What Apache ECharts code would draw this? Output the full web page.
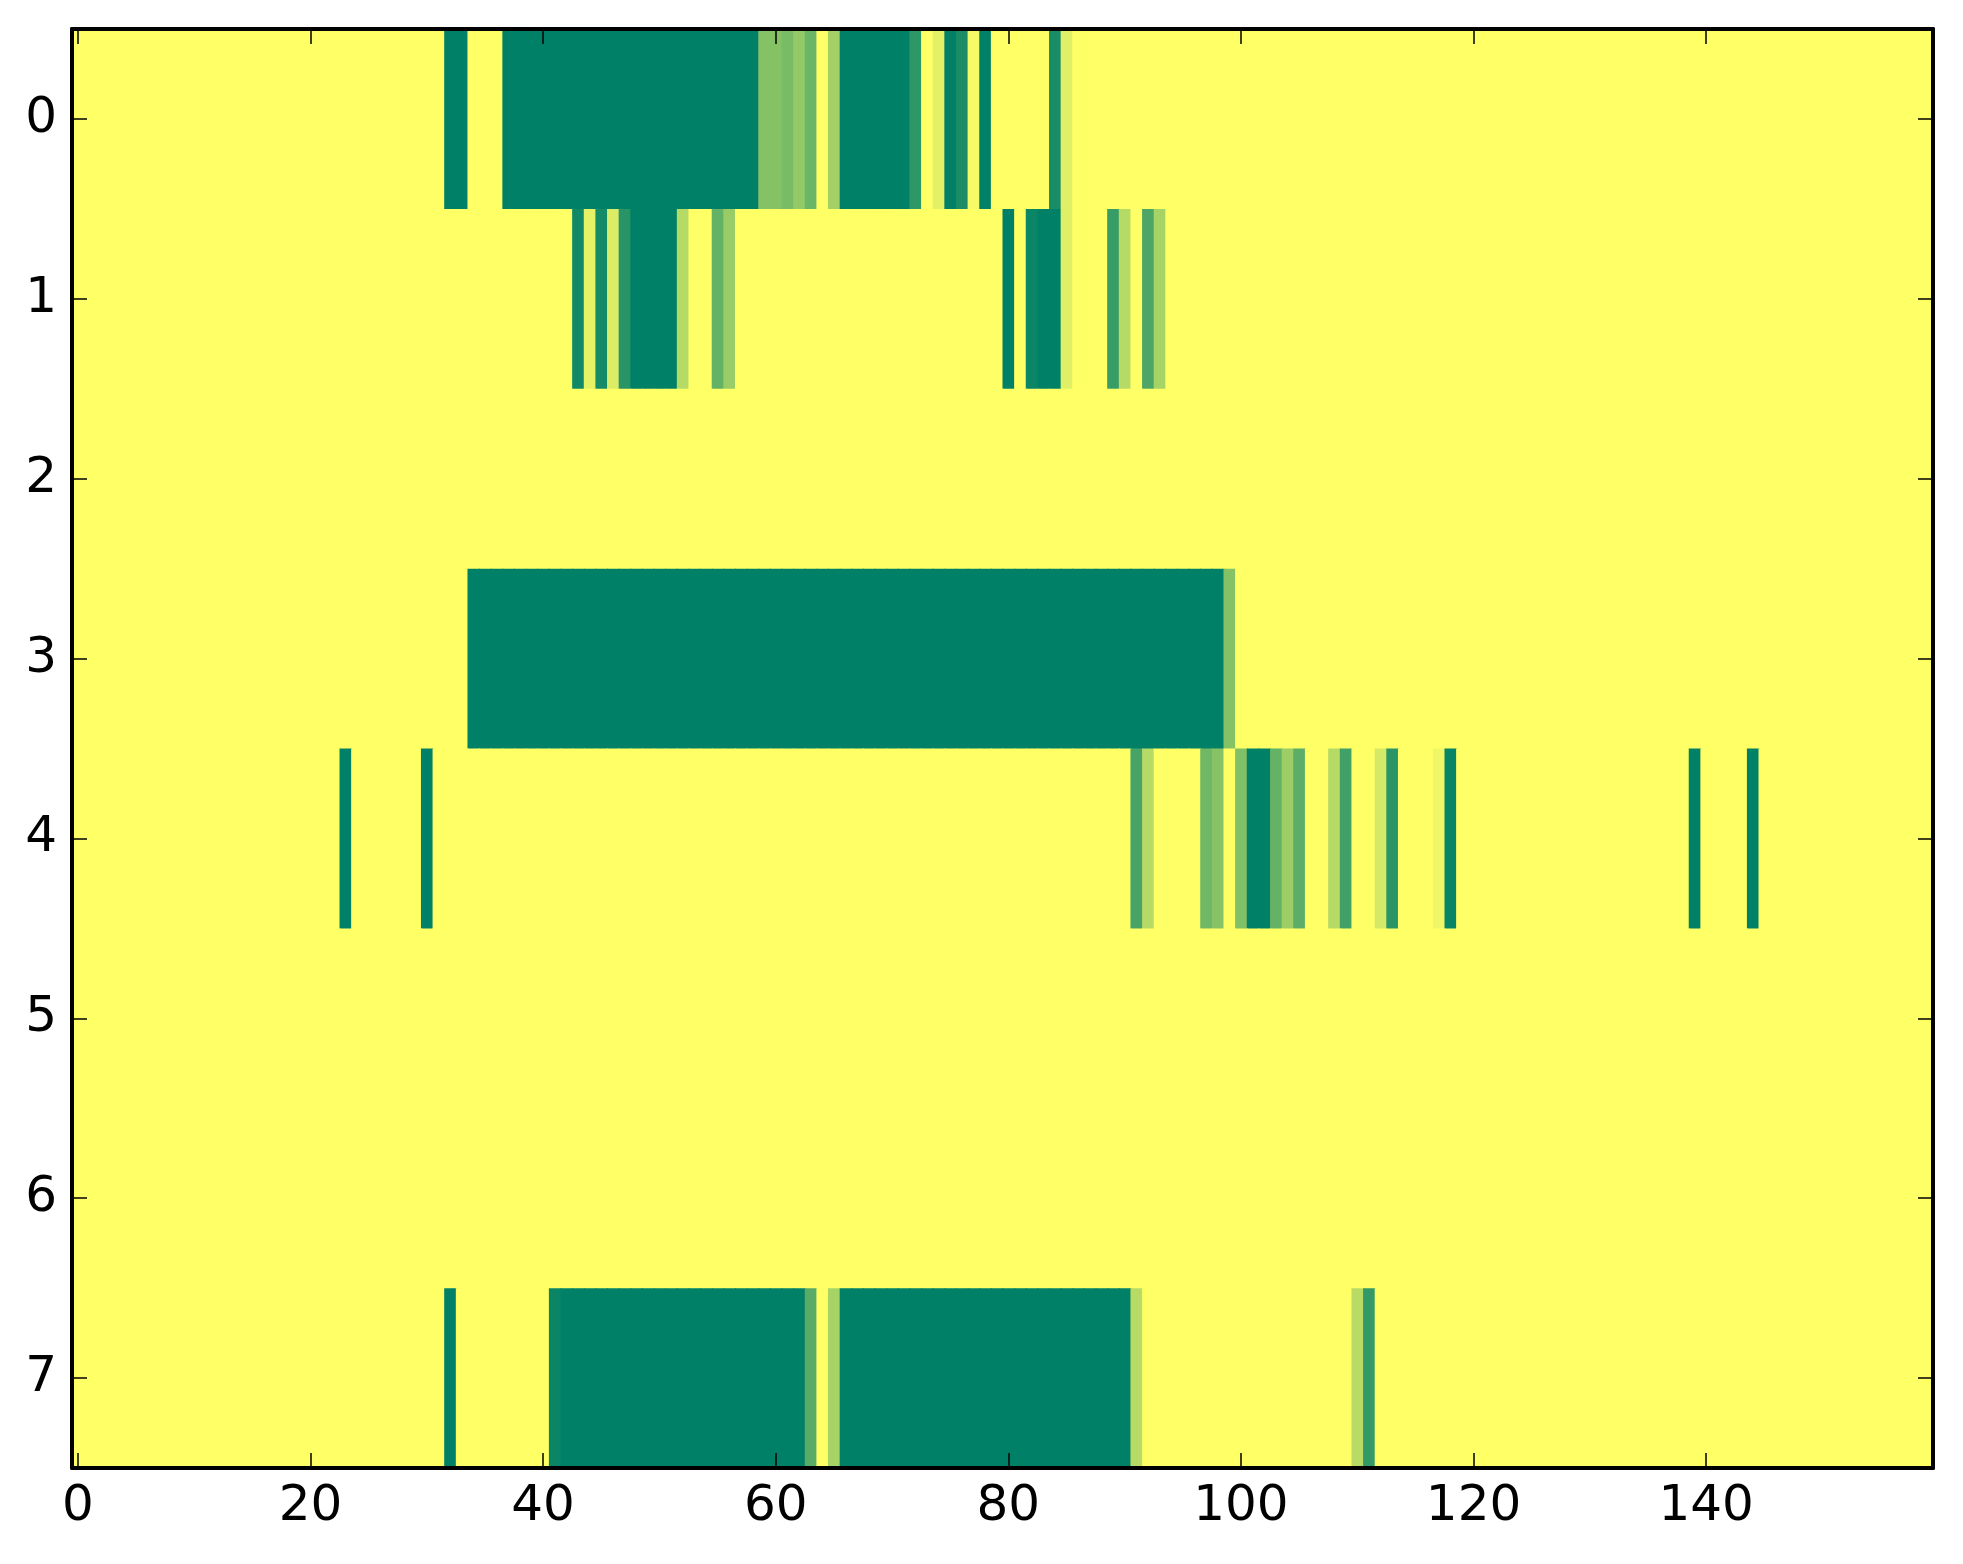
<!DOCTYPE html>
<html>
<head>
<meta charset="utf-8">
<script src="https://cdn.jsdelivr.net/npm/echarts@6/dist/echarts.min.js"></script>
<style>
html,body{margin:0;padding:0;background:#fff;}
#chart{width:1963px;height:1564px;}
</style>
</head>
<body>
<div id="chart"></div>
<script>
// Number of columns and row labels
var nCols = 160;
var rowLabels = ['0','1','2','3','4','5','6','7'];
var xTickLabels = ['0','20','40','60','80','100','120','140'];
// Cells that are not at value 1 (yellow): [startCol, endCol, value]
var row0 = [[32,33,0],[37,58,0],[59,60,0.52],[61,61,0.47],[62,62,0.58],[63,63,0.42],[65,65,0.64],[66,71,0],[72,72,0.18],[74,74,0.89],[75,75,0],[76,76,0.1],[77,77,0.96],[78,78,0],[84,84,0.1],[85,85,0.88]];
var row1 = [[43,43,0.07],[44,44,0.9],[45,45,0.08],[46,46,0.86],[47,47,0.16],[48,51,0],[52,52,0.71],[55,55,0.39],[56,56,0.6],[80,80,0],[82,82,0.04],[83,84,0],[85,85,0.88],[89,89,0.22],[90,90,0.71],[92,92,0.3],[93,93,0.65]];
var row2 = [];
var row3 = [[34,98,0],[99,99,0.52]];
var row4 = [[23,23,0],[30,30,0],[91,91,0.28],[92,92,0.71],[97,97,0.44],[98,98,0.53],[100,100,0.5],[101,102,0],[103,103,0.39],[104,104,0.61],[105,105,0.36],[108,108,0.71],[109,109,0.25],[112,112,0.83],[113,113,0.16],[117,117,0.94],[118,118,0.03],[139,139,0],[144,144,0]];
var row5 = [];
var row6 = [];
var row7 = [[32,32,0],[41,41,0.04],[42,62,0],[63,63,0.35],[65,65,0.65],[66,90,0],[91,91,0.72],[110,110,0.72],[111,111,0.2]];
var rows = [row0,row1,row2,row3,row4,row5,row6,row7];

var cats = [];
for (var i = 0; i < nCols; i++) cats.push(String(i));

var data = [];
rows.forEach(function (runs, r) {
  var vals = [];
  for (var c = 0; c < nCols; c++) vals.push(1);
  runs.forEach(function (run) {
    for (var c = run[0]; c <= run[1]; c++) vals[c] = run[2];
  });
  for (var c = 0; c < nCols; c++) data.push([c, r, vals[c]]);
});

var showTick = function (idx) { return xTickLabels.indexOf(String(idx)) >= 0; };
var font = 'DejaVu Sans';
var axisLineStyle = {show: true, lineStyle: {color: '#000', width: 4}};

var chart = echarts.init(document.getElementById('chart'), null, {renderer: 'canvas'});
chart.setOption({
  animation: false,
  backgroundColor: '#ffffff',
  grid: {left: 72, right: 30, top: 29, bottom: 96, containLabel: false},
  visualMap: {type: 'continuous', show: false, min: 0, max: 1, dimension: 2, seriesIndex: 0,
    inRange: {color: ['#008066', '#ffff66']}},
  xAxis: [
    {type: 'category', data: cats, position: 'bottom', z: 10,
      axisLine: axisLineStyle,
      axisTick: {show: true, inside: true, alignWithLabel: true, interval: showTick, length: 15, lineStyle: {color: '#000', width: 1.5}},
      axisLabel: {show: true, interval: showTick, fontSize: 50, fontFamily: font, color: '#000', margin: 14},
      splitLine: {show: false}},
    {type: 'category', data: cats, position: 'top', z: 10,
      axisLine: axisLineStyle,
      axisTick: {show: true, inside: true, alignWithLabel: true, interval: showTick, length: 15, lineStyle: {color: '#000', width: 1.5}},
      axisLabel: {show: false},
      splitLine: {show: false}}
  ],
  yAxis: [
    {type: 'category', data: rowLabels, inverse: true, position: 'left', z: 10,
      axisLine: axisLineStyle,
      axisTick: {show: true, inside: true, alignWithLabel: true, length: 15, lineStyle: {color: '#000', width: 1.5}},
      axisLabel: {show: true, fontSize: 50, fontFamily: font, color: '#000', margin: 15},
      splitLine: {show: false}},
    {type: 'category', data: rowLabels, inverse: true, position: 'right', z: 10,
      axisLine: axisLineStyle,
      axisTick: {show: true, inside: true, alignWithLabel: true, length: 15, lineStyle: {color: '#000', width: 1.5}},
      axisLabel: {show: false},
      splitLine: {show: false}}
  ],
  series: [{
    type: 'custom',
    xAxisIndex: 0, yAxisIndex: 0,
    clip: true,
    encode: {x: 0, y: 1},
    data: data,
    renderItem: function (params, api) {
      var p = api.coord([api.value(0), api.value(1)]);
      var s = api.size([1, 1]);
      return {
        type: 'rect',
        shape: {x: p[0] - s[0] / 2, y: p[1] - s[1] / 2, width: s[0] + 1, height: s[1] + 1},
        style: {fill: api.visual('color')}
      };
    },
    silent: true
  }]
});
</script>
</body>
</html>
